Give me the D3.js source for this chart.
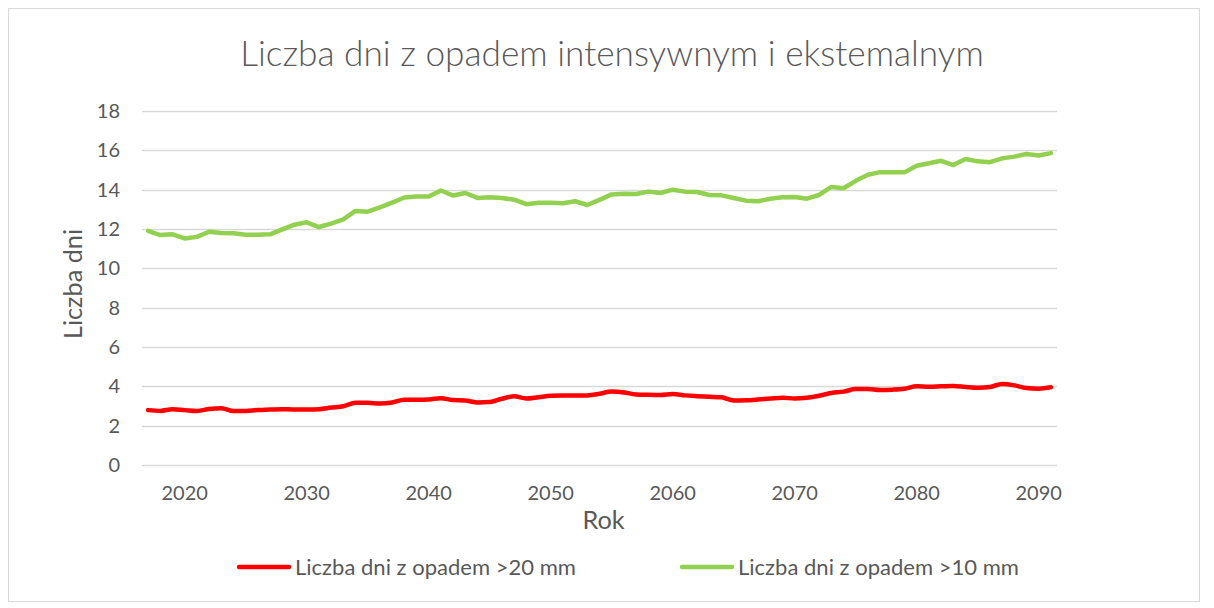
<!DOCTYPE html>
<html><head><meta charset="utf-8">
<script src="https://cdn.jsdelivr.net/npm/d3@7"></script>
<style>html,body{margin:0;padding:0;background:#fff;} svg{display:block;}</style>
</head><body>
<svg id="chart" width="1214" height="608"></svg>
<script>
const years = d3.range(2017, 2092);
const tickYears = [2020, 2030, 2040, 2050, 2060, 2070, 2080, 2090];
const yTicks = [0, 2, 4, 6, 8, 10, 12, 14, 16, 18];
const titleText = "Liczba dni z opadem intensywnym i ekstemalnym";
const xTitle = "Rok";
const yTitle = "Liczba dni";
const seriesNames = ["Liczba dni z opadem >20 mm", "Liczba dni z opadem >10 mm"];
const seriesColors = ["#FF0000", "#92D050"];
const over20 = [2.79,2.75,2.84,2.79,2.75,2.85,2.89,2.74,2.75,2.80,2.82,2.84,2.82,2.82,2.84,2.92,2.99,3.16,3.16,3.13,3.18,3.32,3.32,3.33,3.40,3.30,3.28,3.18,3.20,3.37,3.49,3.38,3.45,3.52,3.54,3.54,3.54,3.62,3.74,3.69,3.59,3.57,3.56,3.61,3.54,3.50,3.47,3.44,3.28,3.29,3.33,3.38,3.42,3.38,3.42,3.52,3.66,3.73,3.86,3.86,3.81,3.83,3.88,4.00,3.98,4.00,4.02,3.97,3.93,3.97,4.12,4.05,3.91,3.88,3.95];
const over10 = [11.91,11.69,11.73,11.52,11.60,11.86,11.80,11.78,11.71,11.71,11.73,11.98,12.22,12.34,12.10,12.27,12.49,12.92,12.88,13.10,13.34,13.60,13.65,13.65,13.96,13.70,13.83,13.58,13.61,13.58,13.49,13.26,13.34,13.34,13.31,13.41,13.22,13.48,13.76,13.79,13.78,13.90,13.83,14.00,13.90,13.88,13.73,13.71,13.58,13.44,13.41,13.54,13.61,13.63,13.54,13.73,14.14,14.07,14.45,14.76,14.89,14.88,14.88,15.22,15.34,15.47,15.25,15.56,15.44,15.40,15.59,15.68,15.81,15.74,15.86];

const svg = d3.select("#chart");
const FONT = "Lato, 'Open Sans', sans-serif";
const TXT = "#595959";

// chart border
svg.append("rect").attr("x", 8.5).attr("y", 8.5).attr("width", 1191).attr("height", 593)
  .attr("fill", "#fff").attr("stroke", "#D9D9D9").attr("stroke-width", 1);

const L = 142, R = 1057, T = 111, B = 465;
const x = d3.scaleBand().domain(years).range([L, R]).padding(0);
const y = d3.scaleLinear().domain([0, 18]).range([B, T]);
const cx = d => x(d) + x.bandwidth() / 2;

function fit(sel, w) {
  const fs = parseFloat(sel.attr("font-size"));
  const m = sel.node().getComputedTextLength();
  sel.attr("font-size", (fs * w / m).toFixed(2));
}

// gridlines
svg.append("g").selectAll("line").data(yTicks).join("line")
  .attr("x1", L).attr("x2", R)
  .attr("y1", d => Math.round(y(d)) + 0.5).attr("y2", d => Math.round(y(d)) + 0.5)
  .attr("stroke", "#D9D9D9").attr("stroke-width", 1.3);

// y axis labels
const yAxis = svg.append("g").attr("transform", `translate(${L},0)`)
  .call(d3.axisLeft(y).tickValues(yTicks).tickSize(0).tickPadding(22));
yAxis.select(".domain").remove();
yAxis.selectAll("text").attr("font-family", FONT).attr("font-size", 20).attr("fill", TXT);

// x axis labels
const xAxis = svg.append("g").attr("transform", `translate(0,${B})`)
  .call(d3.axisBottom(x).tickValues(tickYears).tickSize(0).tickPadding(21));
xAxis.select(".domain").remove();
xAxis.selectAll("text").attr("font-family", FONT).attr("font-size", 20).attr("fill", TXT);

// lines
const line0 = d3.line().x((d, i) => cx(years[i])).y(d => y(d)).curve(d3.curveMonotoneX);
const line1 = d3.line().x((d, i) => cx(years[i])).y(d => y(d));
svg.append("path").datum(over20).attr("d", line0).attr("fill", "none")
  .attr("stroke", seriesColors[0]).attr("stroke-width", 4.5)
  .attr("stroke-linejoin", "round").attr("stroke-linecap", "round");
svg.append("path").datum(over10).attr("d", line1).attr("fill", "none")
  .attr("stroke", seriesColors[1]).attr("stroke-width", 4.5)
  .attr("stroke-linejoin", "round").attr("stroke-linecap", "round");

// title
const t = svg.append("text").attr("x", 612).attr("y", 66).attr("text-anchor", "middle")
  .attr("font-family", FONT).attr("font-weight", 300).attr("font-size", 36).attr("fill", TXT).text(titleText);
fit(t, 744);

// axis titles
const yt = svg.append("text").attr("transform", `translate(82,${(T + B) / 2 - 4}) rotate(-90)`).attr("text-anchor", "middle")
  .attr("font-family", FONT).attr("font-size", 24).attr("fill", TXT).text(yTitle);
fit(yt, 110);
svg.append("text").attr("x", (L + R) / 2 + 4).attr("y", 529).attr("text-anchor", "middle")
  .attr("font-family", FONT).attr("font-size", yt.attr("font-size")).attr("fill", TXT).text(xTitle);

// legend
const legX = [237, 680];
seriesNames.forEach((n, i) => {
  svg.append("line").attr("x1", legX[i] + 2).attr("x2", legX[i] + 52).attr("y1", 567).attr("y2", 567)
    .attr("stroke", seriesColors[i]).attr("stroke-width", 4.5).attr("stroke-linecap", "round");
  const tt = svg.append("text").attr("x", legX[i] + 58).attr("y", 575)
    .attr("font-family", FONT).attr("font-size", 18).attr("fill", TXT).text(n);
  fit(tt, 281);
});
</script>
</body></html>
